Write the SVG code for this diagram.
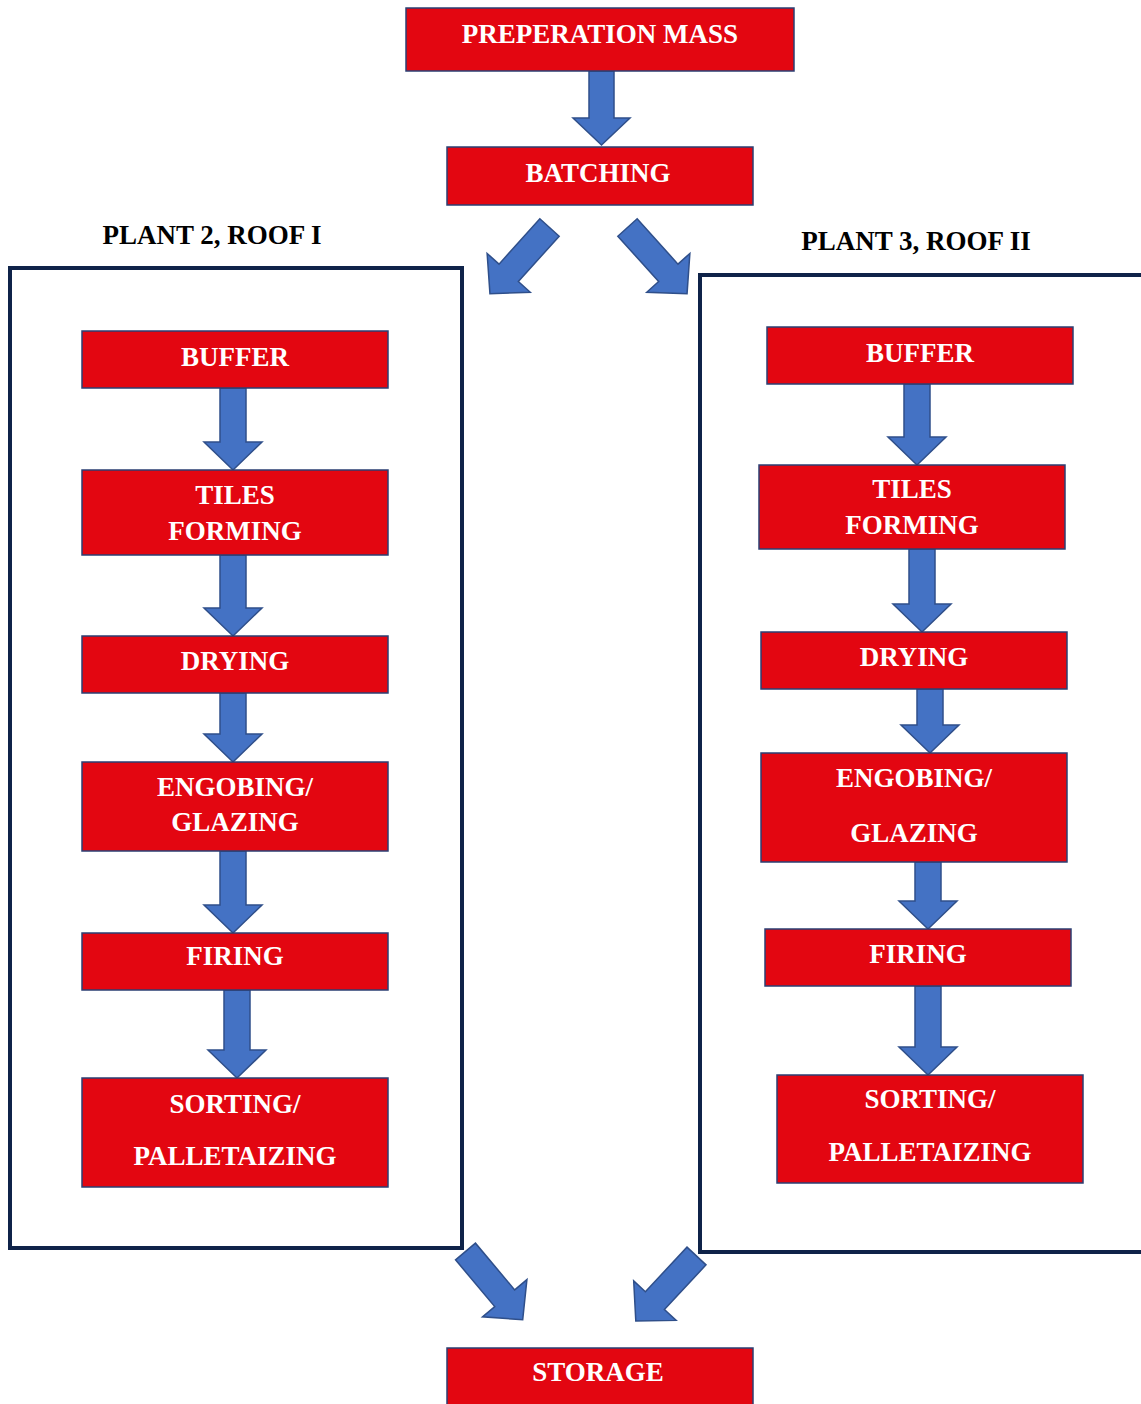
<svg xmlns="http://www.w3.org/2000/svg" width="1141" height="1404" viewBox="0 0 1141 1404">
<style>
.box{fill:#e30611;stroke:#2b3f73;stroke-width:1.5}
.t{font-family:"Liberation Serif","Times New Roman",serif;font-weight:bold;font-size:27px;fill:#ffffff;text-anchor:middle}
.lbl{font-family:"Liberation Serif","Times New Roman",serif;font-weight:bold;font-size:27px;fill:#000000;text-anchor:middle}
.cont{fill:none;stroke:#0f2349;stroke-width:4}
.arr{fill:#4472c4;stroke:#2f4f8a;stroke-width:1.5;stroke-linejoin:miter}
</style>
<defs>
<polygon id="diag" points="-13,0 13,0 13,61 29,61 0,89 -29,61 -13,61"/>
</defs>
<rect width="1141" height="1404" fill="#ffffff"/>

<g id="containers">
<rect class="cont" x="10" y="268" width="452" height="980"/>
<rect class="cont" x="700" y="275" width="460" height="977"/>
<text class="lbl" x="212" y="244">PLANT 2, ROOF I</text>
<text class="lbl" x="916" y="250">PLANT 3, ROOF II</text>
</g>

<g id="connectors">
<polygon class="arr" points="589,71 614,71 614,118 630,118 601.5,145 573,118 589,118"/>
<use href="#diag" class="arr" transform="translate(549.5,227.5) rotate(42)"/>
<use href="#diag" class="arr" transform="translate(627.5,227.5) rotate(-42)"/>
<polygon class="arr" points="220,388 246,388 246,442 262,442 233,470 204,442 220,442"/>
<polygon class="arr" points="220,555 246,555 246,608 262,608 233,636 204,608 220,608"/>
<polygon class="arr" points="220,693 246,693 246,734 262,734 233,762 204,734 220,734"/>
<polygon class="arr" points="220,851 246,851 246,905 262,905 233,933 204,905 220,905"/>
<polygon class="arr" points="224,990 250,990 250,1050 266,1050 237,1078 208,1050 224,1050"/>
<polygon class="arr" points="904,384 930,384 930,437 946,437 917,465 888,437 904,437"/>
<polygon class="arr" points="909,549 935,549 935,604 951,604 922,632 893,604 909,604"/>
<polygon class="arr" points="917,689 943,689 943,725 959,725 930,753 901,725 917,725"/>
<polygon class="arr" points="915,862 941,862 941,901 957,901 928,929 899,901 915,901"/>
<polygon class="arr" points="915,986 941,986 941,1047 957,1047 928,1075 899,1047 915,1047"/>
<use href="#diag" class="arr" transform="translate(465.5,1251.5) rotate(-40)"/>
<use href="#diag" class="arr" transform="translate(696.5,1256) rotate(43)"/>
</g>

<g id="n-prep"><rect class="box" x="406" y="8" width="388" height="63"/><text class="t" x="600" y="43">PREPERATION MASS</text></g>
<g id="n-batch"><rect class="box" x="447" y="147" width="306" height="58"/><text class="t" x="598" y="182">BATCHING</text></g>

<g id="l-buffer"><rect class="box" x="82" y="331" width="306" height="57"/><text class="t" x="235" y="366">BUFFER</text></g>
<g id="l-tiles"><rect class="box" x="82" y="470" width="306" height="85"/><text class="t" x="235" y="504">TILES</text><text class="t" x="235" y="540">FORMING</text></g>
<g id="l-drying"><rect class="box" x="82" y="636" width="306" height="57"/><text class="t" x="235" y="670">DRYING</text></g>
<g id="l-engob"><rect class="box" x="82" y="762" width="306" height="89"/><text class="t" x="235" y="796">ENGOBING/</text><text class="t" x="235" y="831">GLAZING</text></g>
<g id="l-firing"><rect class="box" x="82" y="933" width="306" height="57"/><text class="t" x="235" y="965">FIRING</text></g>
<g id="l-sort"><rect class="box" x="82" y="1078" width="306" height="109"/><text class="t" x="235" y="1113">SORTING/</text><text class="t" x="235" y="1165">PALLETAIZING</text></g>

<g id="r-buffer"><rect class="box" x="767" y="327" width="306" height="57"/><text class="t" x="920" y="362">BUFFER</text></g>
<g id="r-tiles"><rect class="box" x="759" y="465" width="306" height="84"/><text class="t" x="912" y="498">TILES</text><text class="t" x="912" y="534">FORMING</text></g>
<g id="r-drying"><rect class="box" x="761" y="632" width="306" height="57"/><text class="t" x="914" y="666">DRYING</text></g>
<g id="r-engob"><rect class="box" x="761" y="753" width="306" height="109"/><text class="t" x="914" y="787">ENGOBING/</text><text class="t" x="914" y="842">GLAZING</text></g>
<g id="r-firing"><rect class="box" x="765" y="929" width="306" height="57"/><text class="t" x="918" y="963">FIRING</text></g>
<g id="r-sort"><rect class="box" x="777" y="1075" width="306" height="108"/><text class="t" x="930" y="1108">SORTING/</text><text class="t" x="930" y="1161">PALLETAIZING</text></g>

<g id="n-storage"><rect class="box" x="447" y="1348" width="306" height="60"/><text class="t" x="598" y="1381">STORAGE</text></g>
</svg>
